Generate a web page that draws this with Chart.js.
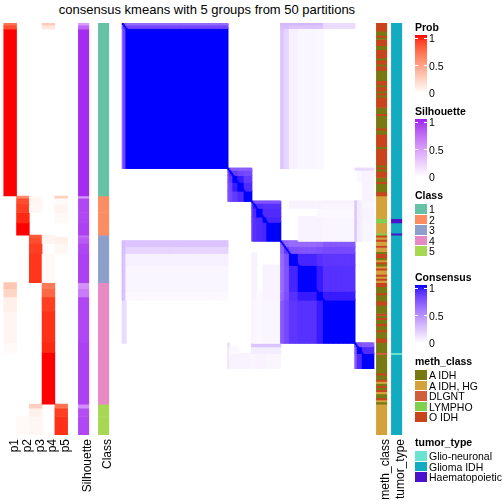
<!DOCTYPE html>
<html>
<head>
<meta charset="utf-8">
<script src="https://cdn.jsdelivr.net/npm/chart.js@4.4.1/dist/chart.umd.min.js"></script>
<style>
  html, body { margin: 0; padding: 0; background: #fff; }
  body { position: relative; width: 504px; height: 504px; overflow: hidden; font-family: "Liberation Sans", Arial, sans-serif; }
  #title { position: absolute; left: 5px; width: 404px; top: 2px; text-align: center; font-size: 13px; line-height: 15px; color: #000; }
  .lg { position: absolute; font-size: 10.5px; line-height: 10px; color: #000; white-space: nowrap; }
  .lg.b { font-weight: bold; }
  .box { position: absolute; }
</style>
</head>
<body>
<div id="title">consensus kmeans with 5 groups from 50 partitions</div>
<script>
// row segments (samples in heatmap order), sizes
const segClass = [1, 1, 1, 2, 2, 2, 2, 2, 3, 3, 3, 3, 3, 4, 4, 4, 4, 4, 4, 5, 5, 5];
const segSize  = [1, 2, 81, 1, 3, 4, 5, 6, 1, 3, 5, 3, 11, 3, 4, 7, 15, 5, 25, 2, 4, 9];

// membership probabilities per segment
const p1 = [0.7, 0.85, 1, 0, 0, 0, 0, 0, 0, 0, 0, 0, 0, 0.3, 0.22, 0.08, 0.05, 0.03, 0, 0, 0, 0];
const p2 = [0, 0, 0, 0.6, 0.85, 0.9, 0.95, 1, 0, 0, 0, 0, 0, 0, 0, 0, 0, 0, 0, 0, 0, 0.03];
const p3 = [0, 0, 0, 0.03, 0.05, 0.04, 0, 0, 0.8, 0.85, 0.9, 0.92, 0.92, 0, 0, 0, 0, 0, 0, 0.25, 0.07, 0.04];
const p4 = [0.28, 0.12, 0, 0, 0, 0, 0, 0, 0.06, 0.06, 0, 0.03, 0.03, 0.68, 0.75, 0.9, 0.93, 0.95, 1, 0, 0, 0];
const p5 = [0, 0, 0, 0.25, 0.03, 0.06, 0.03, 0, 0, 0.08, 0.04, 0, 0, 0, 0, 0, 0, 0, 0, 0.7, 0.9, 0.93];
const silhouette = [0.5, 0.75, 0.97, 0.5, 0.88, 0.88, 0.88, 0.9, 0.7, 0.8, 0.88, 0.9, 0.9, 0.55, 0.65, 0.88, 0.88, 0.9, 0.9, 0.55, 0.85, 0.88];

// consensus between segments [rowSeg, colSeg, value], mirrored
const consensusBlocks = [
  [0, 0, 0.72], [0, 1, 0.72], [0, 2, 0.65], [1, 1, 0.85], [1, 2, 0.8], [2, 2, 1],
  [0, 13, 0.3], [0, 14, 0.3], [0, 15, 0.3], [0, 16, 0.3], [0, 17, 0.3], [0, 18, 0.15],
  [1, 13, 0.28], [1, 14, 0.28], [1, 15, 0.25], [1, 16, 0.25], [1, 17, 0.25], [1, 18, 0.15],
  [2, 13, 0.25], [2, 14, 0.18], [2, 15, 0.06], [2, 16, 0.04], [2, 17, 0.03],
  [3, 3, 0.7], [3, 4, 0.7], [3, 5, 0.7], [3, 6, 0.7], [3, 7, 0.7],
  [4, 4, 0.9], [4, 5, 0.85], [4, 6, 0.8], [4, 7, 0.78],
  [5, 5, 1], [5, 6, 0.95], [5, 7, 0.85], [6, 6, 1], [6, 7, 0.9], [7, 7, 1],
  [3, 19, 0.15], [3, 20, 0.15], [3, 21, 0.15], [4, 20, 0.03], [5, 20, 0.03],
  [4, 21, 0.05], [5, 21, 0.05], [6, 21, 0.05], [7, 21, 0.05],
  [8, 8, 0.75], [8, 9, 0.75], [8, 10, 0.75], [8, 11, 0.75], [8, 12, 0.75],
  [9, 9, 0.95], [9, 10, 0.9], [9, 11, 0.88], [9, 12, 0.88],
  [10, 10, 1], [10, 11, 0.9], [10, 12, 0.9], [11, 11, 1], [11, 12, 0.92], [12, 12, 1],
  [8, 15, 0.05], [8, 16, 0.05], [8, 17, 0.05], [8, 18, 0.06],
  [9, 15, 0.05], [9, 16, 0.05], [9, 17, 0.05], [9, 18, 0.04],
  [10, 17, 0.03], [10, 18, 0.03], [11, 16, 0.05], [11, 17, 0.05], [11, 18, 0.04],
  [12, 16, 0.05], [12, 17, 0.05], [12, 18, 0.04],
  [8, 19, 0.25], [9, 19, 0.25], [10, 19, 0.25], [11, 19, 0.25], [12, 19, 0.25],
  [8, 20, 0.08], [9, 20, 0.08], [10, 20, 0.08], [11, 20, 0.08], [12, 20, 0.08],
  [8, 21, 0.04], [9, 21, 0.04], [10, 21, 0.05], [11, 21, 0.05], [12, 21, 0.04],
  [13, 13, 0.7], [13, 14, 0.68], [13, 15, 0.64], [13, 16, 0.64], [13, 17, 0.66], [13, 18, 0.72],
  [14, 14, 0.85], [14, 15, 0.75], [14, 16, 0.74], [14, 17, 0.76], [14, 18, 0.78],
  [15, 15, 1], [15, 16, 0.92], [15, 17, 0.88], [15, 18, 0.86],
  [16, 16, 1], [16, 17, 0.95], [16, 18, 0.88], [17, 17, 1], [17, 18, 0.95], [18, 18, 1],
  [19, 19, 0.78], [19, 20, 0.75], [19, 21, 0.72], [20, 20, 1], [20, 21, 0.9], [21, 21, 1]
];

// annotation runs, top to bottom
const methRuns = [
  ["O IDH", 4], ["A IDH", 2], ["O IDH", 1], ["A IDH", 1], ["O IDH", 3], ["A IDH", 2], ["O IDH", 4], ["A IDH", 1],
  ["O IDH", 2], ["A IDH", 1], ["O IDH", 2], ["A IDH", 5], ["O IDH", 2], ["A IDH", 1], ["O IDH", 2], ["A IDH", 1],
  ["O IDH", 1], ["A IDH", 1], ["O IDH", 5], ["A IDH", 3], ["O IDH", 1], ["A IDH", 6], ["O IDH", 1], ["A IDH", 2],
  ["O IDH", 6], ["A IDH", 1], ["O IDH", 8], ["A IDH", 1], ["O IDH", 1], ["A IDH", 1], ["O IDH", 3], ["A IDH", 2],
  ["O IDH", 1], ["A IDH", 4], ["O IDH", 2],
  ["A IDH, HG", 11], ["LYMPHO", 2], ["A IDH, HG", 5], ["LYMPHO", 1],
  ["O IDH", 1], ["A IDH, HG", 1], ["O IDH", 1], ["A IDH, HG", 2], ["O IDH", 1], ["A IDH, HG", 2], ["A IDH", 1],
  ["O IDH", 2], ["A IDH", 1], ["A IDH, HG", 1], ["O IDH", 1], ["A IDH", 1], ["A IDH, HG", 1], ["O IDH", 1],
  ["A IDH, HG", 2], ["O IDH", 1], ["A IDH, HG", 1], ["O IDH", 1], ["A IDH, HG", 1],
  ["O IDH", 2], ["A IDH", 3], ["O IDH", 1], ["A IDH", 3], ["O IDH", 2], ["A IDH", 4], ["O IDH", 1], ["A IDH", 1],
  ["O IDH", 1], ["A IDH", 2], ["O IDH", 1], ["A IDH", 2], ["O IDH", 1], ["A IDH", 3], ["O IDH", 2], ["A IDH", 5],
  ["DLGNT", 1], ["A IDH", 9], ["O IDH", 1], ["A IDH", 2], ["O IDH", 1], ["A IDH, HG", 1], ["A IDH", 1], ["O IDH", 1],
  ["A IDH", 1], ["O IDH", 1], ["A IDH, HG", 1], ["A IDH", 2], ["O IDH", 1], ["A IDH, HG", 1], ["A IDH", 1],
  ["A IDH, HG", 15]
];
const tumorRuns = [
  ["Glioma IDH", 95], ["Haematopoietic", 2], ["Glioma IDH", 5], ["Haematopoietic", 1],
  ["Glioma IDH", 57], ["Glio-neuronal", 1], ["Glioma IDH", 39]
];

const probTicks = ["0", "0.5", "1"];
const classLevels = ["1", "2", "3", "4", "5"];
const methLevels = ["A IDH", "A IDH, HG", "DLGNT", "LYMPHO", "O IDH"];
const tumorLevels = ["Glio-neuronal", "Glioma IDH", "Haematopoietic"];

const classColors = { 1: "#66C2A5", 2: "#FC8D62", 3: "#8DA0CB", 4: "#E78AC3", 5: "#A6D854" };
const methColors = { "A IDH": "#777A10", "A IDH, HG": "#D4A23B", "DLGNT": "#CF5E3C", "LYMPHO": "#7ED14E", "O IDH": "#C8441B" };
const tumorColors = { "Glio-neuronal": "#6AE3CF", "Glioma IDH": "#12ABC0", "Haematopoietic": "#4B12CE" };

// colour ramps white -> colour in Lab space
function toLin(c) { c /= 255; return c <= 0.04045 ? c / 12.92 : Math.pow((c + 0.055) / 1.055, 2.4); }
function fromLin(c) { c = c <= 0.0031308 ? 12.92 * c : 1.055 * Math.pow(c, 1 / 2.4) - 0.055; return Math.round(Math.max(0, Math.min(1, c)) * 255); }
function rgb2lab(rgb) {
  const [r, g, b] = rgb.map(toLin);
  const f = t => t > 0.008856 ? Math.cbrt(t) : 7.787 * t + 16 / 116;
  const x = f((0.4124 * r + 0.3576 * g + 0.1805 * b) / 0.95047);
  const y = f(0.2126 * r + 0.7152 * g + 0.0722 * b);
  const z = f((0.0193 * r + 0.1192 * g + 0.9505 * b) / 1.08883);
  return [116 * y - 16, 500 * (x - y), 200 * (y - z)];
}
function lab2rgb([L, a, b]) {
  const fy = (L + 16) / 116, fx = a / 500 + fy, fz = fy - b / 200;
  const fi = t => t * t * t > 0.008856 ? t * t * t : (t - 16 / 116) / 7.787;
  const x = fi(fx) * 0.95047, y = fi(fy), z = fi(fz) * 1.08883;
  const r = 3.2406 * x - 1.5372 * y - 0.4986 * z;
  const g = -0.9689 * x + 1.8758 * y + 0.0415 * z;
  const bb = 0.0557 * x - 0.2040 * y + 1.0570 * z;
  return `rgb(${fromLin(r)},${fromLin(g)},${fromLin(bb)})`;
}
function ramp(hex) {
  const w = rgb2lab([255, 255, 255]);
  const c = rgb2lab([1, 3, 5].map(i => parseInt(hex.slice(i, i + 2), 16)));
  return v => lab2rgb(w.map((x, i) => x + (c[i] - x) * v));
}
const probColor = ramp("#FF0000");
const silColor = ramp("#A020F0");
const consColor = ramp("#0000FF");

const N = segSize.reduce((a, b) => a + b, 0);
const segStart = [];
segSize.reduce((acc, s) => { segStart.push(acc); return acc + s; }, 0);
const colSeg = [];
segSize.forEach((s, i) => { for (let k = 0; k < s; k++) colSeg.push(i); });

const M = segSize.map(() => segSize.map(() => 0));
consensusBlocks.forEach(([i, j, v]) => { M[i][j] = v; M[j][i] = v; });

const TOP = 23, BODY_H = 412, AXIS_H = 66;
const FONT = "'Liberation Sans', Arial, sans-serif";

function bars(data, colors, extra) {
  return Object.assign({ data, backgroundColor: colors, grouped: false, borderWidth: 0,
    categoryPercentage: 1, barPercentage: 1 }, extra || {});
}

// a strip of heatmap columns; one empty category on each side keeps the
// rotated labels from eating into the chart area
function strip(left, colW, labels, datasets, showLabels) {
  const cv = document.createElement("canvas");
  const cols = ["", ...labels, ""];
  cv.width = colW * cols.length;
  cv.height = BODY_H + (showLabels ? AXIS_H : 0);
  cv.style.cssText = `position:absolute;left:${left - colW}px;top:${TOP}px`;
  document.body.appendChild(cv);
  datasets.forEach(ds => { ds.data = [null, ...ds.data, null]; });
  return new Chart(cv, {
    type: "bar",
    data: { labels: cols, datasets },
    options: {
      responsive: false,
      animation: false,
      layout: { padding: 0 },
      plugins: { legend: { display: false }, tooltip: { enabled: false } },
      scales: {
        x: {
          display: showLabels,
          grid: { display: false, drawTicks: false },
          border: { display: false },
          ticks: { autoSkip: false, minRotation: 90, maxRotation: 90, padding: 4, labelOffset: 4.5, color: "#000",
            font: { family: FONT, size: 12, lineHeight: 1 } },
          afterFit: s => { s.height = AXIS_H; }
        },
        y: { display: false, min: 0, max: N, reverse: true }
      }
    }
  });
}

function runsToDatasets(runs, colors) {
  let at = 0;
  return runs.map(([name, n]) => {
    const d = [[at, at + n]];
    at += n;
    return bars(d, colors[name]);
  });
}

// p1..p5
const probs = [p1, p2, p3, p4, p5];
strip(5, 14.2, ["p1", "p2", "p3", "p4", "p5"], segSize.map((s, r) => {
  const vals = probs.map(p => p[r]);
  return bars(vals.map(v => v > 0 ? [segStart[r], segStart[r] + s] : null), ["#fff", ...vals.map(probColor), "#fff"]);
}), true);

// silhouette
strip(82, 14, ["Silhouette"], segSize.map((s, r) =>
  bars([[segStart[r], segStart[r] + s]], silColor(silhouette[r]))), true);

// class
strip(102, 14, ["Class"], segSize.map((s, r) =>
  bars([[segStart[r], segStart[r] + s]], classColors[segClass[r]])), true);

// consensus matrix
const cw = 252 / N;
const matrixSets = segSize.map((s, r) => bars(
  colSeg.map(c => M[r][c] > 0.005 ? [segStart[r], segStart[r] + s] : null),
  ["#fff", ...colSeg.map(c => consColor(M[r][c])), "#fff"], { inflateAmount: 0.6 }));
matrixSets.push(bars(colSeg.map((c, j) => [j, j + 1]), consColor(1), { order: -1, inflateAmount: 0.3 }));
strip(122, cw, colSeg.map((c, j) => String(j)), matrixSets, false);

// meth_class and tumor_type
strip(380, 14, ["meth_class"], runsToDatasets(methRuns, methColors), true);
strip(395, 14, ["tumor_type"], runsToDatasets(tumorRuns, tumorColors), true);

// legends
const LX = 415;
function el(cls, x, y, html, css) {
  const d = document.createElement("div");
  d.className = cls;
  d.style.left = x + "px";
  d.style.top = y + "px";
  if (css) d.style.cssText += css;
  d.innerHTML = html;
  document.body.appendChild(d);
  return d;
}
function colorBar(T, title, fn) {
  el("lg b", LX, T - 1, title);
  const stops = [];
  for (let i = 0; i <= 10; i++) stops.push(`${fn(i / 10)} ${i * 10}%`);
  el("box", LX, T + 12, "", `width:12px;height:58px;background:linear-gradient(to top, ${stops.join(",")})`);
  const ys = [T + 70, T + 42.5, T + 15];
  probTicks.forEach((t, i) => {
    el("box", LX, ys[i] - 0.5, "", "width:3px;height:1px;background:#fff");
    el("box", LX + 9, ys[i] - 0.5, "", "width:3px;height:1px;background:#fff");
    el("lg", LX + 14, ys[i] - 5, t);
  });
}
function swatches(T, title, levels, colors) {
  el("lg b", LX, T - 1, title);
  levels.forEach((lv, i) => {
    const y = T + 13 + i * 10.5;
    el("box", LX, y, "", `width:12px;height:9.5px;background:${colors[lv]}`);
    el("lg", LX + 14, y, lv);
  });
}
colorBar(23, "Prob", probColor);
colorBar(107, "Silhouette", silColor);
swatches(191, "Class", classLevels, classColors);
colorBar(273, "Consensus", consColor);
swatches(357, "meth_class", methLevels, methColors);
swatches(438, "tumor_type", tumorLevels, tumorColors);
</script>
</body>
</html>
